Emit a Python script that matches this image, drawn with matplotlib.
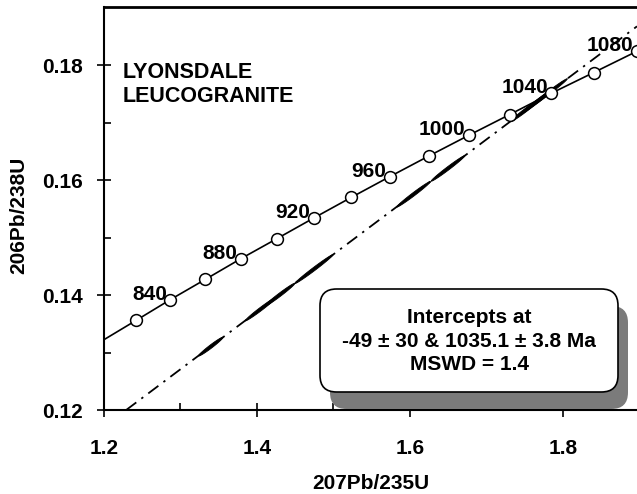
import numpy as np
import matplotlib
matplotlib.use('Agg')
import matplotlib.pyplot as plt
from matplotlib.patches import FancyBboxPatch

# --- Dados ---
idades = [800, 820, 840, 860, 880, 900, 920, 940, 960, 980, 1000, 1020, 1040, 1060, 1080, 1100]
concX = [1.1987, 1.2425, 1.2871, 1.3326, 1.3790, 1.4263, 1.4746, 1.5238, 1.5740,
         1.6252, 1.6774, 1.7307, 1.7850, 1.8404, 1.8969, 1.9545]
concY = [0.1321, 0.1356, 0.1392, 0.1427, 0.1463, 0.1498, 0.1534, 0.1570, 0.1606,
         0.1642, 0.1678, 0.1714, 0.1751, 0.1787, 0.1824, 0.1861]
idadesMarcadas = [820, 840, 860, 880, 900, 920, 940, 960, 980, 1000, 1020, 1040, 1060, 1080]
idadesRotulo = [840, 880, 920, 960, 1000, 1040, 1080]

# discordia: intercepto inferior e superior (207/235, 206/238)
discX = [-0.0471, 1.7716]
discY = [-0.0076, 0.1742]

# elipses de erro (centro x, centro y, semi-eixo em x)
elipX = [1.340, 1.405, 1.430, 1.475, 1.605, 1.650, 1.750, 1.765, 1.780]
elipY = [0.13103, 0.13753, 0.14003, 0.14453, 0.15752, 0.16202, 0.17201, 0.17351, 0.17501]
elipSx = [0.016, 0.020, 0.020, 0.025, 0.022, 0.022, 0.018, 0.020, 0.026]

xTicks = [1.2, 1.4, 1.6, 1.8]
yTicks = [0.12, 0.14, 0.16, 0.18]

plt.rcParams['font.family'] = ['Liberation Sans', 'DejaVu Sans']
plt.rcParams['font.weight'] = 'bold'

W, H = 637, 494
fig = plt.figure(figsize=(W / 100, H / 100), dpi=100)
ax = fig.add_axes([103.7 / W, 84 / H, (W - 103.7) / W, 403 / H])
ax.set_xlim(1.2, 1.897)
ax.set_ylim(0.12, 0.1901)

# discordia
inclin = (discY[1] - discY[0]) / (discX[1] - discX[0])
ax.axline((discX[0], discY[0]), (discX[1], discY[1]), color='black', lw=1.3,
          dashes=(7, 3.5, 1.3, 3.5), zorder=2)

# elipses
t = np.linspace(0, 2 * np.pi, 120)
for cx, cy, sx in zip(elipX, elipY, elipSx):
    ex = cx + sx * np.cos(t)
    ey = cy + inclin * sx * np.cos(t) + 0.00035 * np.sin(t)
    ax.fill(ex, ey, facecolor='black', edgecolor='black', lw=0.6, zorder=3)

# concordia
ax.plot(concX, concY, color='black', lw=1.2, zorder=4)
mx = [concX[idades.index(a)] for a in idadesMarcadas]
my = [concY[idades.index(a)] for a in idadesMarcadas]
ax.plot(mx, my, 'o', ms=8.5, mfc='white', mec='black', mew=1.1, zorder=5)
for a in idadesRotulo:
    i = idades.index(a)
    ax.annotate(str(a), (concX[i], concY[i]), xytext=(-2.5, 3.8), textcoords='offset points',
                ha='right', va='center', fontsize=15, fontweight='bold', zorder=6)

ax.text(123 / W, 1 - 84.5 / H, 'LYONSDALE\nLEUCOGRANITE', transform=fig.transFigure,
        ha='left', va='center', fontsize=15.5, fontweight='bold', linespacing=1.2)

# caixa com sombra
bx0, by0, bx1, by1 = 320 / W, 1 - 392 / H, 618 / W, 1 - 289 / H
estilo = 'round,pad=0,rounding_size=0.026'
sombra = FancyBboxPatch((bx0 + 10 / W, by0 - 17 / H), bx1 - bx0, by1 - by0, boxstyle=estilo,
                        mutation_aspect=W / H, transform=fig.transFigure,
                        facecolor='#7b7b7b', edgecolor='none', zorder=7)
ax.add_patch(sombra)
caixa = FancyBboxPatch((bx0, by0), bx1 - bx0, by1 - by0, boxstyle=estilo,
                       mutation_aspect=W / H, transform=fig.transFigure,
                       facecolor='white', edgecolor='black', lw=1.2, zorder=8)
ax.add_patch(caixa)
ax.text((bx0 + bx1) / 2, 1 - 341 / H, 'Intercepts at\n-49 \u00b1 30 & 1035.1 \u00b1 3.8 Ma\nMSWD = 1.4',
        transform=fig.transFigure, ha='center', va='center', fontsize=15,
        fontweight='bold', linespacing=1.3, zorder=9)

# eixos
ax.spines['right'].set_visible(False)
ax.spines['top'].set_linewidth(2.0)
ax.spines['left'].set_linewidth(1.5)
ax.spines['bottom'].set_linewidth(1.5)
ax.set_xticks(xTicks)
ax.set_yticks(yTicks)
ax.set_xticklabels([f'{v:.1f}' for v in xTicks])
ax.set_yticklabels([f'{v:.2f}' for v in yTicks])
ax.set_xticks([1.3, 1.5, 1.7], minor=True)
ax.set_yticks([0.13, 0.15, 0.17], minor=True)
ax.tick_params(which='major', direction='inout', length=9.5, width=1.2, labelsize=15)
ax.tick_params(which='minor', direction='in', length=5, width=1.2)
ax.tick_params(axis='x', which='major', pad=16)
ax.tick_params(axis='y', which='major', pad=10)
ax.tick_params(top=False, right=False, which='both')

ax.set_xlabel('207Pb/235U', fontsize=15, fontweight='bold')
ax.xaxis.set_label_coords(0.5, -0.158)
ax.xaxis.label.set_va('top')
ax.set_ylabel('206Pb/238U', fontsize=15, fontweight='bold')
ax.yaxis.set_label_coords(-0.142, 0.484)

fig.savefig('out.png', dpi=100)
